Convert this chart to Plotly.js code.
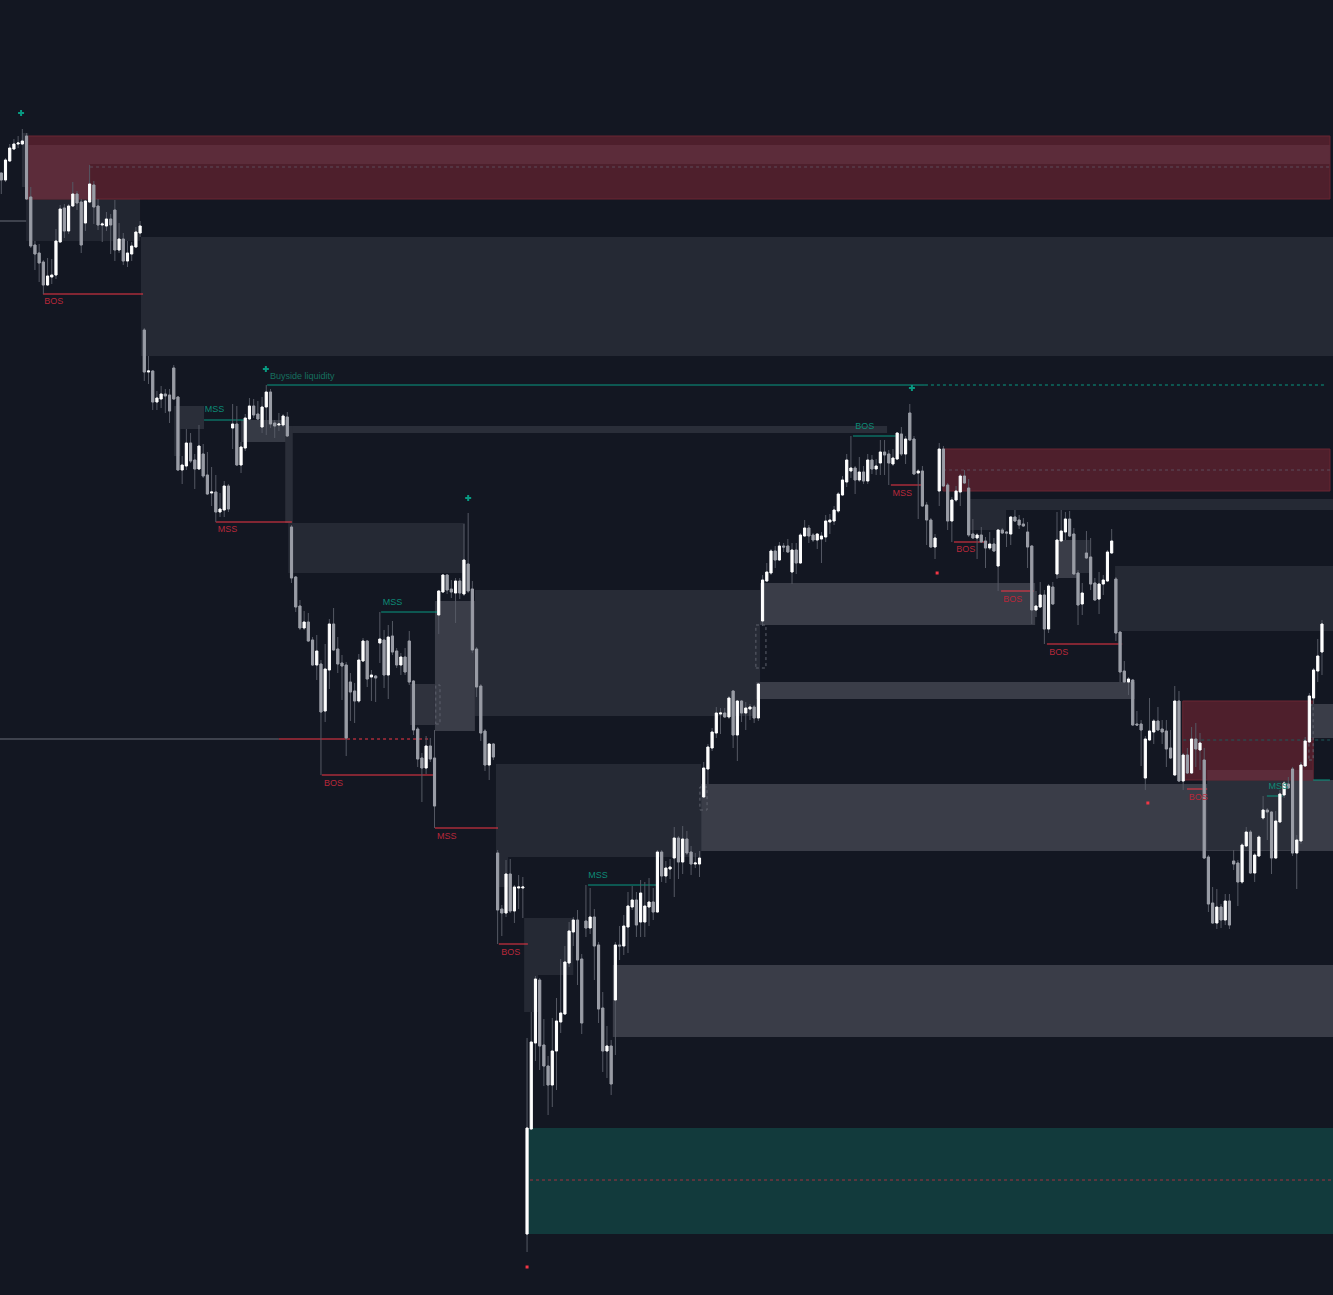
<!DOCTYPE html>
<html><head><meta charset="utf-8">
<script src="https://cdn.plot.ly/plotly-3.0.1.min.js"></script>
<style>html,body{margin:0;padding:0;background:#131722;overflow:hidden}#chart{width:1333px;height:1295px}</style>
</head><body><div id="chart"></div>
<script>
// ---- candle data (price units) ----
const open = [
1127,1120,1139,1151,1156,1156,1164,1103,1055,1047,
1038,1015,1023,1025,1058,1092,1069,1094,1106,1098,
1077,1098,1115,1094,1075,1074,1081,1090,1050,1061,
1039,1046,1053,1067,970,928,929,898,901,906,
905,932,903,830,834,857,840,831,846,825,
807,808,788,790,814,872,876,835,852,881,
894,886,873,893,908,877,875,875,883,773,
723,694,672,678,660,635,636,589,630,676,
651,637,635,618,609,599,639,659,623,624,
657,660,625,664,649,635,643,659,619,571,
542,532,554,542,685,708,725,711,707,719,
706,736,711,651,614,569,535,556,447,391,
387,426,389,412,412,66,171,257,320,255,
234,215,249,278,286,337,368,380,341,379,
372,383,355,292,249,254,300,355,354,373,
393,400,378,378,393,398,388,448,424,431,
442,462,438,461,448,436,436,503,531,552,
567,586,587,583,609,565,599,587,591,593,
582,679,719,727,749,740,754,754,728,750,
737,764,772,765,760,761,763,778,779,789,
805,818,829,832,820,828,819,840,831,837,
848,846,836,841,866,846,887,861,827,829,
795,780,753,809,851,815,779,800,808,824,
812,766,762,765,759,752,756,734,770,768,
766,783,780,776,768,754,690,693,705,671,
713,726,759,768,781,766,727,696,747,743,
717,701,716,719,747,721,668,629,618,620,
576,576,522,560,568,579,571,569,552,525,
599,519,545,527,561,550,540,443,397,377,
393,380,399,439,437,418,454,468,427,444,
482,490,488,442,478,505,516,531,447,459,
534,558,602,629,648];
const high = [
1127,1142,1156,1161,1164,1171,1167,1113,1059,1056,
1040,1042,1041,1071,1095,1096,1096,1118,1109,1101,
1100,1135,1119,1101,1078,1088,1086,1100,1077,1067,
1059,1058,1073,1079,972,944,930,909,914,911,
911,935,904,844,871,867,846,875,856,848,
833,825,807,819,816,896,894,858,886,902,
901,899,903,915,911,880,887,886,888,775,
724,700,689,687,663,665,640,656,681,692,
663,645,638,627,617,646,662,660,630,625,
688,670,675,679,652,647,652,669,620,573,
547,564,562,570,710,726,726,720,722,722,
776,787,719,653,616,571,557,557,450,395,
440,441,415,425,423,262,288,324,322,281,
244,282,302,341,354,378,383,390,346,415,
412,391,358,308,274,260,358,374,385,408,
414,408,420,418,422,412,450,450,439,441,
473,464,474,469,454,447,449,538,556,572,
593,592,592,604,610,600,600,598,596,595,
617,725,737,751,754,758,757,761,757,757,
767,780,775,767,767,768,785,786,794,808,
824,846,864,834,843,834,846,845,841,860,
860,850,851,868,873,864,896,864,831,834,
798,782,766,857,854,817,803,814,826,830,
821,781,767,773,763,768,762,771,772,769,
784,790,785,782,778,755,709,718,710,716,
718,788,790,788,789,772,730,717,769,762,
722,728,725,750,771,723,668,639,623,621,
589,580,564,602,581,593,580,580,570,614,
609,547,552,573,577,567,552,445,413,411,
396,406,406,450,440,457,473,470,447,465,
504,492,489,489,510,519,523,533,465,538,
563,607,632,661,680];
const low = [
1106,1118,1138,1150,1152,1155,1100,1052,1030,1018,
1006,1014,1016,1021,1057,1062,1066,1093,1090,1047,
1069,1097,1076,1070,1058,1069,1046,1039,1047,1035,
1033,1039,1052,1063,919,916,890,890,892,887,
877,900,829,816,830,837,811,830,822,805,
794,778,783,783,788,851,834,827,849,880,
882,880,867,865,872,862,869,873,863,717,
688,670,670,658,634,620,525,578,611,649,
627,600,544,579,577,597,638,613,599,598,
637,612,601,645,632,625,625,615,565,533,
498,526,538,472,666,707,706,702,677,701,
704,707,647,603,559,529,520,540,356,364,
383,387,377,391,382,48,170,239,230,214,
185,193,210,267,285,333,354,315,266,363,
366,320,277,228,222,205,245,340,345,347,
390,363,363,363,374,380,387,418,417,421,
403,421,426,445,425,432,423,502,516,549,
562,566,582,581,552,539,578,570,580,577,
579,674,718,725,732,739,748,747,716,726,
736,763,757,758,751,737,758,766,775,787,
804,813,822,806,818,816,816,826,825,825,
825,815,834,840,844,836,859,825,781,793,
755,752,741,794,813,770,758,798,794,816,
763,761,741,757,732,750,748,709,766,753,
755,778,771,773,732,676,683,692,656,667,
695,721,758,760,763,725,675,685,741,710,
699,686,705,718,746,659,618,618,605,574,
574,534,510,559,556,569,556,533,541,524,
518,510,526,526,533,530,441,388,376,371,
372,375,371,430,394,416,453,426,418,443,
480,460,426,441,477,502,511,444,411,456,
533,557,596,618,625];
const close = [
1120,1140,1152,1156,1157,1159,1101,1054,1046,1037,
1015,1024,1025,1059,1091,1069,1094,1106,1097,1055,
1099,1116,1093,1075,1076,1081,1075,1050,1061,1039,
1047,1054,1068,1074,928,929,898,902,906,904,
889,901,830,835,857,839,831,854,824,806,
808,788,791,814,791,876,835,853,882,894,
885,881,893,908,876,874,876,884,864,722,
693,672,678,659,635,649,588,631,676,650,
636,634,562,608,599,640,659,621,625,622,
661,625,663,648,635,643,628,618,570,541,
532,554,541,494,709,725,710,708,719,707,
740,709,650,613,567,535,556,543,390,387,
426,389,413,413,413,172,258,321,254,234,
215,249,279,287,338,369,380,340,277,372,
383,354,291,249,254,216,355,354,374,394,
400,375,407,394,398,388,448,424,432,433,
462,438,461,447,436,437,442,532,553,568,
587,587,583,602,565,599,587,592,593,582,
616,720,728,749,740,754,753,748,750,737,
765,772,764,760,766,764,779,780,790,806,
820,840,832,820,828,819,840,831,834,848,
845,837,842,867,846,861,860,826,829,794,
780,753,762,851,814,779,800,809,824,817,
765,762,765,758,752,756,749,770,767,767,
783,779,775,774,753,690,694,705,671,714,
696,760,769,781,764,726,695,707,742,716,
700,716,720,748,759,667,628,618,621,575,
575,570,561,569,579,570,568,551,542,599,
519,545,527,561,551,557,442,396,377,393,
380,399,375,436,418,455,468,427,445,463,
490,488,442,479,506,517,512,447,460,535,
559,604,630,644,676];

// ---- zones (bar index, price) ----
const zoneStart  = [33.2,5.9,5.9,6.4,6.4,4.9,41.1,41.1,57.0,68.2,67.5,68.2,112.6,103.1,97.2,117.6,117.6,124.3,124.3,145.4,125.2,166.4,286.7,306.9,180.4,179.4,264.8,229.8,229.8,250.8,254.8,223.9,280.9,286.7,310.9];
const zoneEnd    = [317,33.0,315.9,315.9,21.1,6.4,48.2,42.6,68.2,210.6,69.3,110.2,180.4,112.6,103.1,166.4,120.5,136.0,127.6,317,317,317,306.9,317,245.8,269.5,317,317,238.9,256.0,258.8,315.9,311.9,311.9,317];
const zoneTop    = [1063,1101,1164,1155,1136,1167,894,871,880,874,874,777,710,699,616,536,443,382,325,335,172,516,530,520,717,618,734,801,790,760,760,851,599,530,596];
const zoneBottom = [944,1059,1101,1136,1101,1113,871,844,858,867,777,727,584,569,575,443,413,325,288,263,66,449,450,465,675,601,669,790,770,722,727,809,520,520,562];
const zoneKind   = ['dark','dark0','bear','bearHi','bearHi','mid','mid','mid','light2','mid','mid','dark','dark2','light','mid2','dark','dark','dark','dark','light','bull','light','mid','light','light','light','dark','dark','dark','light','mid','bear','bear','bearHi','light'];

// ---- structure levels ----
const levelPrice = [1006,880,778,915,915,688,525,561,561,561,472,356,415,864,815,758,709,656,511,504,520,1079];
const levelStart = [9.9,48.2,51.0,63.2,219.6,90.3,76.2,-0.5,66.0,82.2,103.1,118.3,139.5,202.5,211.5,226.5,237.7,248.6,281.9,300.9,311.9,-0.5];
const levelEnd   = [33.7,58.4,69.1,219.6,314.7,104.3,103.1,66.0,82.2,101.9,118.1,125.2,156.1,213.4,219.1,234.4,245.5,266.5,286.7,304.7,315.9,5.9];
const levelSide  = ['bear','bull','bear','bull','bull','bull','bear','neutral','bear','bear','bear','bear','bull','bull','bear','bear','bear','bear','bear','bull','bull','neutral'];
const levelDash  = ['solid','solid','solid','solid','dot','solid','solid','solid','solid','dot','solid','solid','solid','solid','solid','solid','solid','solid','solid','solid','solid','solid'];

// zone mid lines
const midPrice = [1133,830,560,120];
const midStart = [21.1,223.9,281.0,125.7];
const midEnd   = [315.9,315.9,315.9,317];
const midKind  = ['grey','grey','teal','red'];

// imbalance markers
const imbStart  = [103.3,166.1,179.4,310.9];
const imbEnd    = [104.3,167.8,181.8,311.9];
const imbTop    = [615,513,675,595];
const imbBottom = [576,490,632,540];

// labels
const labelText  = ['BOS','MSS','MSS','Buyside liquidity','MSS','BOS','MSS','BOS','MSS','BOS','MSS','BOS','BOS','BOS','BOS','MSS'];
const labelIndex = [12.5,50.7,53.8,63.9,93.0,79.0,105.9,121.1,141.9,205.3,214.2,229.3,240.5,251.4,284.6,303.6];
const labelPrice = [998,890,770,923,697,516,463,347,424,873,806,750,700,647,502,513];
const labelSide  = ['bear','bull','bear','liq','bull','bear','bear','bear','bull','bull','bear','bear','bear','bear','bear','bull'];

// swing points
const swingHighIndex = [4.7,62.9,111.0,216.5];
const swingHighPrice = [1187,931,802,912];
const swingLowIndex  = [125.0,222.5,272.6];
const swingLowPrice  = [33,727,497];

// ---- styles ----
const zoneColors = {dark:'#252934',dark0:'#222631',dark2:'#272b36',mid:'#2a2e39',mid2:'#2f323d',light:'#3a3d48',light2:'#363a45',bear:'#4e1f2c',bearHi:'#5c2c3a',bull:'#123a3c'};
const lineColors = {bear:'#f23645',bull:'#089981',neutral:'#6b6e78'};
const midColors = {grey:'#5d4d5a',teal:'#1d5b5b',red:'#a1303f'};
const textColors = {bear:'#b8283a',bull:'#0d8a76',liq:'#16705f'};

const idx = open.map((_, i) => i);
const bodyHigh = open.map((o, i) => Math.max(o, close[i]));
const bodyLow = open.map((o, i) => Math.min(o, close[i]));

const shapes = [];
zoneStart.forEach((s, k) => {
  const kind = zoneKind[k];
  const isBear = kind === 'bear';
  shapes.push({type:'rect', xref:'x', yref:'y', layer:'below',
    x0:s, x1:zoneEnd[k], y0:zoneBottom[k], y1:zoneTop[k],
    fillcolor:zoneColors[kind],
    line:{width:isBear?1:0, color:isBear?'#6a2632':'rgba(0,0,0,0)'}});
});
midPrice.forEach((p, k) => {
  shapes.push({type:'line', xref:'x', yref:'y', layer:'below', x0:midStart[k], x1:midEnd[k], y0:p, y1:p,
    line:{color:midColors[midKind[k]], width:1, dash:'dot'}});
});
imbStart.forEach((s, k) => {
  shapes.push({type:'rect', xref:'x', yref:'y', layer:'below', x0:s, x1:imbEnd[k], y0:imbBottom[k], y1:imbTop[k],
    fillcolor:'rgba(0,0,0,0)', line:{color:'#5f626d', width:1, dash:'dot'}});
});
levelPrice.forEach((p, k) => {
  shapes.push({type:'line', xref:'x', yref:'y', layer:'below', x0:levelStart[k], x1:levelEnd[k], y0:p, y1:p,
    line:{color:lineColors[levelSide[k]], width:1, dash:levelDash[k]}});
});

const traces = [];
// labels (behind candles)
['bear','bull','liq'].forEach(side => {
  const ks = labelText.map((_, k) => k).filter(k => labelSide[k] === side);
  traces.push({type:'scatter', mode:'text', x:ks.map(k=>labelIndex[k]), y:ks.map(k=>labelPrice[k]),
    text:ks.map(k=>labelText[k]), textposition: side==='liq' ? 'middle right' : 'middle center',
    textfont:{family:'Liberation Sans, Arial, sans-serif', size:9, color:textColors[side]}, hoverinfo:'skip'});
});
// wicks
traces.push({type:'candlestick', x:idx, open, high, low, close, whiskerwidth:0, hoverinfo:'skip',
  increasing:{line:{color:'#555964', width:1}, fillcolor:'#555964'},
  decreasing:{line:{color:'#555964', width:1}, fillcolor:'#555964'}});
// bodies
traces.push({type:'candlestick', x:idx, open, high:bodyHigh, low:bodyLow, close, whiskerwidth:0, hoverinfo:'skip',
  increasing:{line:{color:'#ffffff', width:1}, fillcolor:'#ffffff'},
  decreasing:{line:{color:'#9a9da6', width:1}, fillcolor:'#9a9da6'}});
// swing markers
traces.push({type:'scatter', mode:'markers', x:swingHighIndex, y:swingHighPrice, hoverinfo:'skip',
  marker:{symbol:'cross', size:5, color:'#089981', line:{width:0}}});
traces.push({type:'scatter', mode:'markers', x:swingLowIndex, y:swingLowPrice, hoverinfo:'skip',
  marker:{symbol:'square', size:3, color:'#f23645', line:{width:0}}});

const layout = {
  width:1333, height:1295, margin:{l:0,r:0,t:0,b:0,pad:0},
  paper_bgcolor:'#131722', plot_bgcolor:'#131722', showlegend:false, hovermode:false,
  boxgap:0.5, boxgroupgap:0, boxmode:'overlay',
  xaxis:{range:[-0.31,316.62], visible:false, showgrid:false, zeroline:false, rangeslider:{visible:false}, fixedrange:true},
  yaxis:{range:[5,1300], visible:false, showgrid:false, zeroline:false, fixedrange:true},
  shapes
};
Plotly.newPlot('chart', traces, layout, {staticPlot:true, displayModeBar:false});
</script>
</body></html>
